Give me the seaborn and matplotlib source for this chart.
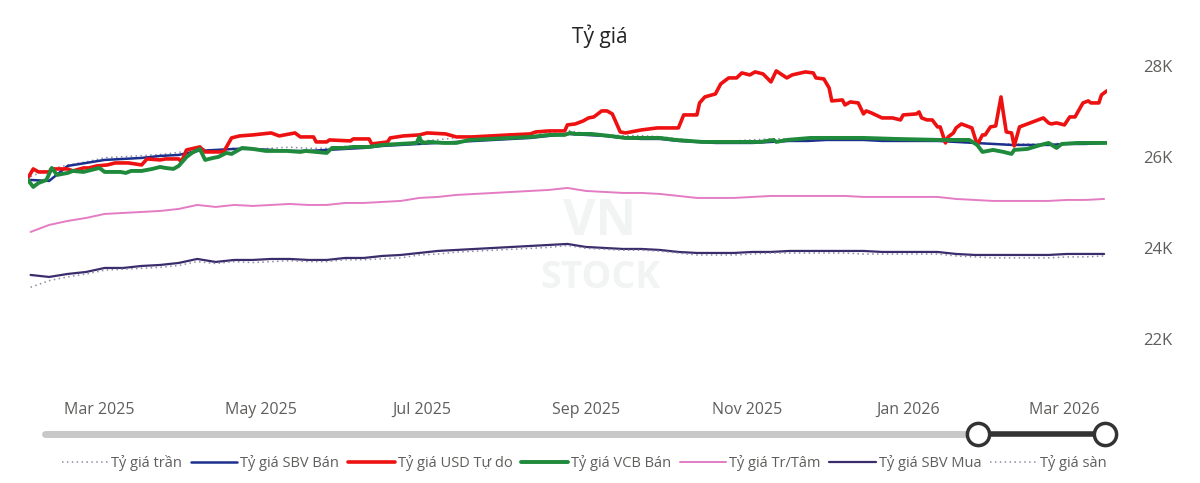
import matplotlib
matplotlib.use("Agg")
import matplotlib.pyplot as plt
import matplotlib.dates as mdates
from matplotlib.lines import Line2D
from matplotlib.ticker import FuncFormatter
import seaborn as sns
import pandas as pd

# weekly series (smooth lines)
week_dates = pd.date_range("2025-02-03", periods=59, freq="7D")

sbv_ban = [25494, 25472, 25802, 25868, 25934, 25956, 25978, 26022, 26044, 26132,
           26154, 26176, 26176, 26154, 26132, 26132, 26154, 26176, 26198, 26242,
           26264, 26286, 26308, 26330, 26352, 26374, 26396, 26418, 26462, 26506,
           26484, 26462, 26418, 26396, 26396, 26352, 26330, 26308, 26308, 26308,
           26330, 26352, 26352, 26374, 26374, 26374, 26352, 26352, 26352, 26352,
           26330, 26308, 26286, 26264, 26264, 26264, 26286, 26286, 26308]

tran = [25568, 25729, 25822, 25891, 25983, 26006, 26030, 26053, 26099, 26191,
        26145, 26191, 26168, 26191, 26214, 26191, 26191, 26237, 26237, 26261,
        26284, 26353, 26376, 26422, 26445, 26468, 26492, 26515, 26538, 26584,
        26515, 26492, 26468, 26468, 26445, 26399, 26353, 26353, 26353, 26376,
        26399, 26399, 26399, 26399, 26399, 26376, 26376, 26376, 26376, 26376,
        26330, 26307, 26284, 26284, 26284, 26284, 26307, 26307, 26330]

trung_tam = [24350, 24504, 24592, 24658, 24746, 24768, 24790, 24812, 24856, 24944,
             24900, 24944, 24922, 24944, 24966, 24944, 24944, 24988, 24988, 25010,
             25032, 25098, 25120, 25164, 25186, 25208, 25230, 25252, 25274, 25318,
             25252, 25230, 25208, 25208, 25186, 25142, 25098, 25098, 25098, 25120,
             25142, 25142, 25142, 25142, 25142, 25120, 25120, 25120, 25120, 25120,
             25076, 25054, 25032, 25032, 25032, 25032, 25054, 25054, 25076]

sbv_mua = [23404, 23360, 23426, 23470, 23558, 23558, 23602, 23624, 23668, 23756,
           23690, 23734, 23734, 23756, 23756, 23734, 23734, 23778, 23778, 23822,
           23844, 23888, 23932, 23954, 23976, 23998, 24020, 24042, 24064, 24086,
           24020, 23998, 23976, 23976, 23954, 23910, 23888, 23888, 23888, 23910,
           23910, 23932, 23932, 23932, 23932, 23932, 23910, 23910, 23910, 23910,
           23866, 23844, 23844, 23844, 23844, 23844, 23866, 23866, 23866]

san = [23133, 23279, 23362, 23425, 23509, 23530, 23551, 23571, 23613, 23697,
       23655, 23697, 23676, 23697, 23718, 23697, 23697, 23739, 23739, 23760,
       23780, 23843, 23864, 23906, 23927, 23948, 23969, 23989, 24010, 24052,
       23989, 23969, 23948, 23948, 23927, 23885, 23843, 23843, 23843, 23864,
       23885, 23885, 23885, 23885, 23885, 23864, 23864, 23864, 23864, 23864,
       23822, 23801, 23780, 23780, 23780, 23780, 23801, 23801, 23822]

# free market USD (more detail)
usd_dates = ["2025-02-02", "2025-02-04", "2025-02-06", "2025-02-10", "2025-02-11", "2025-02-17",
             "2025-02-19", "2025-02-23", "2025-02-25", "2025-02-28", "2025-03-04", "2025-03-07",
             "2025-03-12", "2025-03-17", "2025-03-19", "2025-03-24", "2025-03-26", "2025-03-31",
             "2025-04-01", "2025-04-03", "2025-04-08", "2025-04-10", "2025-04-17", "2025-04-20",
             "2025-04-23", "2025-04-28", "2025-05-05", "2025-05-08", "2025-05-14", "2025-05-16",
             "2025-05-21", "2025-05-22", "2025-05-26", "2025-05-27", "2025-06-04", "2025-06-05",
             "2025-06-11", "2025-06-12", "2025-06-18", "2025-06-19", "2025-06-24", "2025-06-30",
             "2025-07-03", "2025-07-10", "2025-07-14", "2025-07-20", "2025-07-27", "2025-08-03",
             "2025-08-11", "2025-08-13", "2025-08-18", "2025-08-24", "2025-08-25", "2025-08-28",
             "2025-08-31", "2025-09-02", "2025-09-04", "2025-09-07", "2025-09-09", "2025-09-11",
             "2025-09-14", "2025-09-16", "2025-09-22", "2025-09-28", "2025-10-06", "2025-10-08",
             "2025-10-13", "2025-10-14", "2025-10-16", "2025-10-20", "2025-10-22", "2025-10-25",
             "2025-10-28", "2025-10-30", "2025-11-02", "2025-11-04", "2025-11-07", "2025-11-10",
             "2025-11-12", "2025-11-16", "2025-11-18", "2025-11-23", "2025-11-26", "2025-11-27",
             "2025-11-30", "2025-12-02", "2025-12-03", "2025-12-07", "2025-12-08", "2025-12-10",
             "2025-12-13", "2025-12-15", "2025-12-16", "2025-12-18", "2025-12-22", "2025-12-26",
             "2025-12-29", "2025-12-30", "2026-01-04", "2026-01-05", "2026-01-06", "2026-01-08",
             "2026-01-10", "2026-01-12", "2026-01-13", "2026-01-15", "2026-01-16", "2026-01-18",
             "2026-01-19", "2026-01-21", "2026-01-24", "2026-01-25", "2026-01-27", "2026-01-29",
             "2026-01-30", "2026-02-01", "2026-02-03", "2026-02-05", "2026-02-06", "2026-02-07",
             "2026-02-09", "2026-02-10", "2026-02-12", "2026-02-16", "2026-02-21", "2026-02-23",
             "2026-02-24", "2026-02-26", "2026-03-01", "2026-03-03", "2026-03-05", "2026-03-08",
             "2026-03-10", "2026-03-11", "2026-03-14", "2026-03-15", "2026-03-17"]
usd_tu_do = [25538, 25736, 25670, 25670, 25736, 25736, 25692, 25758, 25758, 25802, 25824, 25868,
             25868, 25824, 25956, 25934, 25956, 25956, 25890, 26154, 26220, 26110, 26110, 26418,
             26462, 26484, 26528, 26462, 26528, 26440, 26440, 26330, 26330, 26374, 26352, 26396,
             26396, 26286, 26330, 26418, 26462, 26484, 26528, 26506, 26440, 26440, 26462, 26484,
             26506, 26550, 26572, 26572, 26704, 26726, 26792, 26858, 26880, 27012, 27012, 26946,
             26550, 26528, 26594, 26638, 26638, 26924, 26924, 27188, 27320, 27386, 27606, 27738,
             27738, 27848, 27804, 27870, 27826, 27650, 27892, 27738, 27804, 27870, 27848, 27738,
             27716, 27518, 27232, 27254, 27144, 27210, 27188, 26946, 27012, 26968, 26858, 26858,
             26814, 26924, 26946, 26990, 26858, 26814, 26814, 26660, 26660, 26308, 26440, 26528,
             26638, 26726, 26660, 26638, 26264, 26484, 26484, 26660, 26682, 27320, 26924, 26550,
             26528, 26242, 26660, 26748, 26858, 26748, 26726, 26748, 26704, 26880, 26880, 27188,
             27232, 27188, 27188, 27364, 27452]

# VCB sell rate
vcb_dates = ["2025-02-02", "2025-02-04", "2025-02-06", "2025-02-09", "2025-02-11", "2025-02-13",
             "2025-02-17", "2025-02-19", "2025-02-23", "2025-02-26", "2025-03-01", "2025-03-03",
             "2025-03-06", "2025-03-09", "2025-03-11", "2025-03-13", "2025-03-17", "2025-03-21",
             "2025-03-24", "2025-03-26", "2025-03-29", "2025-03-31", "2025-04-03", "2025-04-05",
             "2025-04-08", "2025-04-10", "2025-04-13", "2025-04-15", "2025-04-18", "2025-04-20",
             "2025-04-24", "2025-04-28", "2025-05-03", "2025-05-11", "2025-05-16", "2025-05-18",
             "2025-05-22", "2025-05-26", "2025-05-28", "2025-06-02", "2025-06-05", "2025-06-11",
             "2025-06-16", "2025-06-29", "2025-06-30", "2025-07-01", "2025-07-04", "2025-07-09",
             "2025-07-14", "2025-07-19", "2025-07-27", "2025-08-03", "2025-08-11", "2025-08-18",
             "2025-08-24", "2025-08-26", "2025-08-28", "2025-09-03", "2025-09-10", "2025-09-16",
             "2025-09-29", "2025-10-05", "2025-10-15", "2025-10-24", "2025-11-06", "2025-11-11",
             "2025-11-12", "2025-11-16", "2025-11-25", "2025-12-06", "2025-12-15", "2025-12-27",
             "2026-01-13", "2026-01-24", "2026-01-27", "2026-01-29", "2026-02-02", "2026-02-06",
             "2026-02-09", "2026-02-10", "2026-02-15", "2026-02-20", "2026-02-23", "2026-02-26",
             "2026-02-28", "2026-03-06", "2026-03-17"]
vcb_ban = [25494, 25340, 25428, 25494, 25758, 25604, 25648, 25692, 25670, 25714, 25758, 25670,
           25670, 25670, 25648, 25692, 25692, 25736, 25780, 25758, 25736, 25802, 26000, 26088,
           26176, 25934, 25978, 26000, 26088, 26066, 26198, 26176, 26132, 26132, 26110, 26132,
           26110, 26088, 26198, 26198, 26220, 26220, 26264, 26308, 26440, 26308, 26330, 26308,
           26308, 26374, 26396, 26418, 26440, 26484, 26484, 26528, 26506, 26506, 26462, 26418,
           26418, 26374, 26330, 26330, 26330, 26374, 26330, 26374, 26418, 26418, 26418, 26396,
           26374, 26374, 26264, 26110, 26154, 26110, 26066, 26154, 26176, 26264, 26308, 26198,
           26286, 26308, 26308]

y_ticks = [22000, 24000, 26000, 28000]

sns.set_style("white")
plt.rcParams["font.family"] = ["Open Sans", "DejaVu Sans"]

fig = plt.figure(figsize=(12, 4.83), dpi=100)
ax = fig.add_axes([0.0233, 0.2133, 0.899, 0.673])

dotted = (0, (1, 2.2))
weekly = pd.DataFrame({"date": week_dates, "tran": tran, "sbv_ban": sbv_ban,
                       "tt": trung_tam, "sbv_mua": sbv_mua, "san": san})
usd = pd.DataFrame({"date": pd.to_datetime(usd_dates), "v": usd_tu_do})
vcb = pd.DataFrame({"date": pd.to_datetime(vcb_dates), "v": vcb_ban})

sns.lineplot(data=weekly, x="date", y="tran", ax=ax, color="#8c8ca8", lw=1.1, linestyle=dotted)
sns.lineplot(data=weekly, x="date", y="sbv_ban", ax=ax, color="#1c2f8c", lw=1.8)
sns.lineplot(data=usd, x="date", y="v", ax=ax, color="#ee1111", lw=2.6)
sns.lineplot(data=vcb, x="date", y="v", ax=ax, color="#1f8a3c", lw=2.8)
sns.lineplot(data=weekly, x="date", y="tt", ax=ax, color="#e47cc4", lw=1.4)
sns.lineplot(data=weekly, x="date", y="sbv_mua", ax=ax, color="#3b2d6c", lw=1.6)
sns.lineplot(data=weekly, x="date", y="san", ax=ax, color="#8c8ca8", lw=1.1, linestyle=dotted)

ax.set_xlim(pd.Timestamp("2025-02-02"), pd.Timestamp("2026-03-17"))
ax.set_ylim(21094, 28244)
ax.set_xlabel("")
ax.set_ylabel("")
for s in ax.spines.values():
    s.set_visible(False)
ax.grid(False)

ax.xaxis.set_major_locator(mdates.MonthLocator(bymonth=[1, 3, 5, 7, 9, 11]))
ax.xaxis.set_major_formatter(mdates.DateFormatter("%b %Y"))
ax.yaxis.tick_right()
ax.set_yticks(y_ticks)
ax.yaxis.set_major_formatter(FuncFormatter(lambda v, p: f"{int(v / 1000)}K"))
ax.tick_params(axis="x", length=0, pad=16, labelsize=11.5, labelcolor="#605e5c")
ax.tick_params(axis="y", length=0, pad=26, labelsize=12, labelcolor="#605e5c")

fig.suptitle("Tỷ giá", y=0.95, fontsize=15, color="#252423")

# watermark (very faint)
fig.text(0.5, 0.54, "VN", ha="center", va="center", fontsize=36, fontweight="bold",
         color="#f1f4f3", zorder=0)
fig.text(0.5, 0.425, "STOCK", ha="center", va="center", fontsize=27, fontweight="bold",
         color="#f1f4f3", zorder=0)

# range slider
sy = 1 - 434 / 483
fig.add_artist(Line2D([45 / 1200, 978 / 1200], [sy, sy], color="#c8c8c8", lw=5,
                      solid_capstyle="round"))
fig.add_artist(Line2D([978 / 1200, 1105 / 1200], [sy, sy], color="#333333", lw=4))
for hx in (978, 1105):
    fig.add_artist(Line2D([hx / 1200], [sy], marker="o", markersize=16, color="#333333",
                          markerfacecolor="white", markeredgewidth=2.5))

labels = ["Tỷ giá trần", "Tỷ giá SBV Bán", "Tỷ giá USD Tự do", "Tỷ giá VCB Bán",
          "Tỷ giá Tr/Tâm", "Tỷ giá SBV Mua", "Tỷ giá sàn"]
handles = ax.get_lines()[:7]
fig.legend(handles, labels, loc="center", bbox_to_anchor=(0.4867, 1 - 463 / 483), ncol=7,
           frameon=False, fontsize=10.5, labelcolor="#605e5c", handlelength=3.2,
           handletextpad=0.2, columnspacing=0.6)

plt.savefig("out.png", dpi=100)
plt.close()
